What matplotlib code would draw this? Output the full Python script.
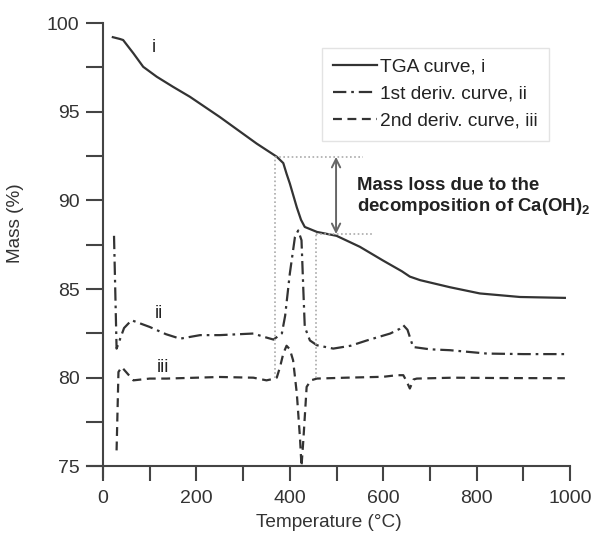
import matplotlib
matplotlib.use("Agg")
import matplotlib.pyplot as plt
from matplotlib.ticker import MultipleLocator

plt.rcParams['font.family'] = ['Liberation Sans', 'DejaVu Sans']
plt.rcParams['mathtext.fontset'] = 'custom'
plt.rcParams['mathtext.rm'] = 'Liberation Sans:bold'
plt.rcParams['mathtext.default'] = 'rm'

# ---- data ----
tga_T = [21, 36, 43, 65, 86, 115, 150, 186, 250, 329, 372, 386, 393, 400, 415, 424, 432,
         458, 500, 550, 600, 640, 657, 679, 743, 807, 893, 989]
tga_M = [99.2, 99.1, 99.04, 98.29, 97.53, 96.97, 96.4, 95.84, 94.7, 93.2, 92.46, 92.1, 91.5,
         90.95, 89.6, 88.9, 88.5, 88.22, 88.0, 87.38, 86.6, 86.0, 85.7, 85.5, 85.1, 84.75,
         84.55, 84.5]

d1_T = [23.5, 29, 45, 61, 100, 135, 165, 208, 250, 290, 322, 345, 365, 383, 390, 400, 411,
        418, 425, 429, 432, 443, 458, 493, 530, 565, 615, 635, 643, 652, 664, 700, 743, 822,
        900, 989]
d1_M = [88.0, 81.64, 82.8, 83.24, 82.86, 82.45, 82.2, 82.4, 82.4, 82.45, 82.49, 82.3, 82.15,
        82.5, 83.5, 85.87, 87.94, 88.3, 87.75, 84.9, 82.86, 82.1, 81.83, 81.64, 81.8, 82.1,
        82.49, 82.75, 82.96, 82.7, 81.73, 81.6, 81.55, 81.36, 81.33, 81.33]

d2_T = [29, 33, 40, 50, 65, 100, 136, 200, 250, 322, 350, 368, 372, 379, 386, 393, 400, 407,
        415, 422, 425, 429, 436, 445, 458, 520, 600, 629, 643, 650, 657, 665, 672, 750, 850, 989]
d2_M = [75.9, 80.32, 80.6, 80.3, 79.85, 79.95, 79.95, 80.0, 80.04, 80.0, 79.85, 79.95, 80.0,
        80.6, 81.36, 81.8, 81.6, 80.98, 79.1, 76.5, 75.0, 76.5, 79.48, 79.85, 79.95, 80.0,
        80.05, 80.14, 80.14, 79.8, 79.39, 79.9, 79.95, 80.0, 79.98, 79.97]

labels = ['TGA curve, i', '1st deriv. curve, ii', '2nd deriv. curve, iii']
curve_tags = ['i', 'ii', 'iii']
tag_pos_T = [105, 111, 116]
tag_pos_M = [98.6, 83.6, 80.6]

guide_left_T, guide_right_T = 368, 456
guide_top_M, guide_bot_M = 92.45, 88.1
arrow_T = 499
annot_text = 'Mass loss due to the\ndecomposition of Ca(OH)$_2$'

# ---- figure ----
W, H = 595, 544
fig = plt.figure(figsize=(W / 100, H / 100), dpi=100)
ax = fig.add_axes([86.7 / W, 1 - 477 / H, (570 - 86.7) / W, (477 - 23) / H])
ax.set_xlim(-35, 1000)
ax.set_ylim(74.4, 100)

lc = '#333333'
ax.plot(tga_T, tga_M, color=lc, lw=1.6, ls='-', label=labels[0])
ax.plot(d1_T, d1_M, color=lc, lw=1.6, dashes=(6, 2.2, 1.2, 2.2), label=labels[1])
ax.plot(d2_T, d2_M, color=lc, lw=1.6, dashes=(4, 2.5), label=labels[2])

gc = '#aaaaaa'
gs = dict(color=gc, lw=1.2, ls=(0, (1, 1.5)))
ax.plot([guide_left_T, guide_left_T], [80.0, guide_top_M], **gs)
ax.plot([guide_right_T, guide_right_T], [80.0, guide_bot_M], **gs)
ax.plot([guide_left_T, 557], [guide_top_M, guide_top_M], **gs)
ax.plot([guide_right_T, 575], [guide_bot_M, guide_bot_M], **gs)

ax.annotate('', xy=(arrow_T, guide_top_M), xytext=(arrow_T, guide_bot_M),
            arrowprops=dict(arrowstyle='<->,head_length=0.6,head_width=0.3',
                            color='#666666', lw=1.4, shrinkA=0, shrinkB=0))
ax.text(544, 90.2, annot_text, fontsize=13.4, fontweight='bold', color='#222222',
        ha='left', va='center', linespacing=1.1)

for t, x, y in zip(curve_tags, tag_pos_T, tag_pos_M):
    ax.text(x, y, t, fontsize=13, color='#222222', ha='left', va='center')

# spines & ticks
for s in ['top', 'right']:
    ax.spines[s].set_visible(False)
ax.spines['left'].set_position(('data', 0))
ax.spines['bottom'].set_position(('data', 75))
for s in ['left', 'bottom']:
    ax.spines[s].set_linewidth(1.5)
    ax.spines[s].set_color('#444444')
ax.spines['left'].set_bounds(74.4, 100)
ax.spines['bottom'].set_bounds(-35, 1000)

ax.xaxis.set_major_locator(MultipleLocator(200))
ax.xaxis.set_minor_locator(MultipleLocator(100))
ax.yaxis.set_major_locator(MultipleLocator(5))
ax.yaxis.set_minor_locator(MultipleLocator(2.5))
ax.tick_params(which='both', direction='out', length=11, width=1.5, color='#444444')
ax.tick_params(axis='y', which='both', length=12)
ax.tick_params(axis='both', labelsize=14, labelcolor='#333333')
ax.tick_params(axis='x', pad=6)
ax.tick_params(axis='y', pad=5)

ax.set_xlabel('Temperature (°C)', fontsize=13.7, color='#333333', labelpad=5)
ax.set_ylabel('Mass (%)', fontsize=13.7, color='#333333')
ax.yaxis.set_label_coords(-0.13, 0.56)

leg = ax.legend(loc='upper left', bbox_to_anchor=(322 / W, 1 - 48 / H),
                bbox_transform=fig.transFigure, borderaxespad=0, fontsize=13.8,
                frameon=True, fancybox=False, edgecolor='#dddddd', handlelength=2.3,
                handletextpad=0.2, labelspacing=0.5, borderpad=0.55)
leg.get_frame().set_linewidth(1.0)
for t in leg.get_texts():
    t.set_color('#222222')

fig.savefig('out.png', dpi=100)
